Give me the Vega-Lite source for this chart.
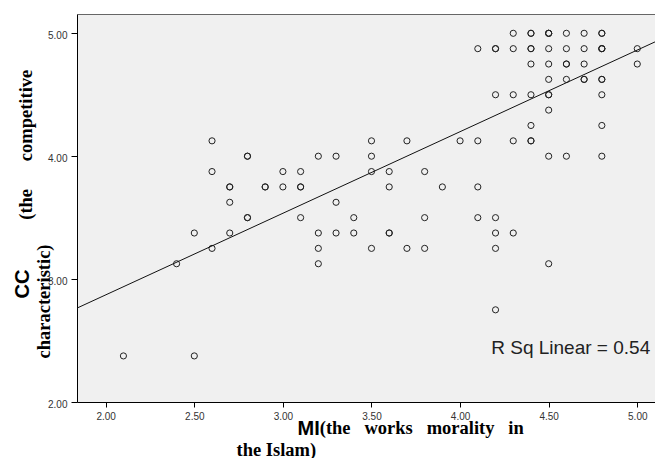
{
  "$schema": "https://vega.github.io/schema/vega-lite/v6.json",
  "width": 578,
  "height": 388,
  "autosize": {"type": "none"},
  "padding": {"left": 77, "top": 14, "right": 0, "bottom": 56},
  "background": "white",
  "view": {"fill": "#f0f0f0", "stroke": null},
  "datasets": {
    "fit": [{"MI": 1.838, "CC": 2.764}, {"MI": 5.1, "CC": 4.93}],
    "note": [{"label": "R Sq Linear = 0.54"}]
  },
  "data": {"values": [
    {"MI": 4.3, "CC": 5.0}, {"MI": 4.4, "CC": 5.0}, {"MI": 4.4, "CC": 5.0}, {"MI": 4.5, "CC": 5.0}, {"MI": 4.5, "CC": 5.0}, {"MI": 4.5, "CC": 5.0}, {"MI": 4.6, "CC": 5.0}, {"MI": 4.7, "CC": 5.0}, {"MI": 4.8, "CC": 5.0}, {"MI": 4.8, "CC": 5.0},
    {"MI": 4.1, "CC": 4.875}, {"MI": 4.2, "CC": 4.875}, {"MI": 4.2, "CC": 4.875}, {"MI": 4.3, "CC": 4.875}, {"MI": 4.4, "CC": 4.875}, {"MI": 4.4, "CC": 4.875}, {"MI": 4.5, "CC": 4.875}, {"MI": 4.6, "CC": 4.875}, {"MI": 4.7, "CC": 4.875}, {"MI": 4.8, "CC": 4.875}, {"MI": 4.8, "CC": 4.875}, {"MI": 4.8, "CC": 4.875}, {"MI": 5.0, "CC": 4.875},
    {"MI": 4.4, "CC": 4.75}, {"MI": 4.5, "CC": 4.75}, {"MI": 4.6, "CC": 4.75}, {"MI": 4.6, "CC": 4.75}, {"MI": 4.7, "CC": 4.75}, {"MI": 5.0, "CC": 4.75},
    {"MI": 4.5, "CC": 4.625}, {"MI": 4.6, "CC": 4.625}, {"MI": 4.7, "CC": 4.625}, {"MI": 4.7, "CC": 4.625}, {"MI": 4.8, "CC": 4.625}, {"MI": 4.8, "CC": 4.625},
    {"MI": 4.2, "CC": 4.5}, {"MI": 4.3, "CC": 4.5}, {"MI": 4.4, "CC": 4.5}, {"MI": 4.5, "CC": 4.5}, {"MI": 4.5, "CC": 4.5}, {"MI": 4.8, "CC": 4.5},
    {"MI": 4.5, "CC": 4.375},
    {"MI": 4.4, "CC": 4.25}, {"MI": 4.8, "CC": 4.25},
    {"MI": 2.6, "CC": 4.125}, {"MI": 3.5, "CC": 4.125}, {"MI": 3.7, "CC": 4.125}, {"MI": 4.0, "CC": 4.125}, {"MI": 4.1, "CC": 4.125}, {"MI": 4.3, "CC": 4.125}, {"MI": 4.4, "CC": 4.125}, {"MI": 4.4, "CC": 4.125},
    {"MI": 2.8, "CC": 4.0}, {"MI": 2.8, "CC": 4.0}, {"MI": 3.2, "CC": 4.0}, {"MI": 3.3, "CC": 4.0}, {"MI": 3.5, "CC": 4.0}, {"MI": 4.5, "CC": 4.0}, {"MI": 4.6, "CC": 4.0}, {"MI": 4.8, "CC": 4.0},
    {"MI": 2.6, "CC": 3.875}, {"MI": 3.0, "CC": 3.875}, {"MI": 3.1, "CC": 3.875}, {"MI": 3.5, "CC": 3.875}, {"MI": 3.6, "CC": 3.875}, {"MI": 3.8, "CC": 3.875},
    {"MI": 2.7, "CC": 3.75}, {"MI": 2.7, "CC": 3.75}, {"MI": 2.9, "CC": 3.75}, {"MI": 2.9, "CC": 3.75}, {"MI": 3.0, "CC": 3.75}, {"MI": 3.1, "CC": 3.75}, {"MI": 3.1, "CC": 3.75}, {"MI": 3.6, "CC": 3.75}, {"MI": 3.9, "CC": 3.75}, {"MI": 4.1, "CC": 3.75},
    {"MI": 2.7, "CC": 3.625}, {"MI": 3.3, "CC": 3.625},
    {"MI": 2.8, "CC": 3.5}, {"MI": 2.8, "CC": 3.5}, {"MI": 3.1, "CC": 3.5}, {"MI": 3.4, "CC": 3.5}, {"MI": 3.8, "CC": 3.5}, {"MI": 4.1, "CC": 3.5}, {"MI": 4.2, "CC": 3.5},
    {"MI": 2.5, "CC": 3.375}, {"MI": 2.7, "CC": 3.375}, {"MI": 3.2, "CC": 3.375}, {"MI": 3.3, "CC": 3.375}, {"MI": 3.4, "CC": 3.375}, {"MI": 3.6, "CC": 3.375}, {"MI": 3.6, "CC": 3.375}, {"MI": 4.2, "CC": 3.375}, {"MI": 4.3, "CC": 3.375},
    {"MI": 2.6, "CC": 3.25}, {"MI": 3.2, "CC": 3.25}, {"MI": 3.5, "CC": 3.25}, {"MI": 3.7, "CC": 3.25}, {"MI": 3.8, "CC": 3.25}, {"MI": 4.2, "CC": 3.25},
    {"MI": 2.4, "CC": 3.125}, {"MI": 3.2, "CC": 3.125}, {"MI": 4.5, "CC": 3.125},
    {"MI": 4.2, "CC": 2.75},
    {"MI": 2.1, "CC": 2.375}, {"MI": 2.5, "CC": 2.375}
  ]},
  "layer": [
    {
      "mark": {"type": "point", "shape": "circle", "filled": false, "size": 38, "stroke": "#222", "strokeWidth": 1, "opacity": 1},
      "encoding": {
        "x": {
          "field": "MI", "type": "quantitative",
          "scale": {"domain": [1.838, 5.1], "nice": false, "zero": false},
          "axis": {
            "orient": "bottom", "values": [2, 2.5, 3, 3.5, 4, 4.5, 5], "format": ".2f", "grid": false,
            "domainColor": "#000", "tickColor": "#000", "tickSize": 5,
            "labelFont": "Liberation Sans", "labelFontSize": 10, "labelColor": "#333", "labelPadding": 4, "labelFlush": false, "labelOverlap": false,
            "title": ["\u200b\u00a0\u00a0\u00a0\u00a0\u00a0\u00a0\u00a0\u00a0\u00a0\u00a0\u00a0\u00a0\u00a0\u00a0\u00a0\u00a0\u00a0\u00a0(the\u00a0\u00a0\u00a0works\u00a0\u00a0\u00a0morality\u00a0\u00a0\u00a0in", "the Islam)"],
            "titleFont": "Liberation Serif", "titleFontSize": 18.5, "titleFontWeight": "bold", "titleColor": "#000",
            "titleX": 159, "titleY": 31, "titleAlign": "left", "titleBaseline": "alphabetic", "titleLineHeight": 22, "titleAngle": 0
          }
        },
        "y": {
          "field": "CC", "type": "quantitative",
          "scale": {"domain": [2, 5.157], "nice": false, "zero": false},
          "axis": {
            "orient": "left", "values": [2, 3, 4, 5], "format": ".2f", "grid": false,
            "domainColor": "#000", "tickColor": "#000", "tickSize": 6,
            "labelFont": "Liberation Sans", "labelFontSize": 10, "labelColor": "#333", "labelPadding": 4, "labelBaseline": "middle", "labelOffset": 2, "labelFlush": false, "labelOverlap": false,
            "title": ["\u200b\u00a0\u00a0\u00a0\u00a0\u00a0\u00a0\u00a0\u00a0\u00a0\u00a0\u00a0\u00a0\u00a0\u00a0\u00a0\u00a0\u00a0\u00a0\u00a0\u00a0\u00a0\u00a0\u00a0\u00a0\u00a0\u00a0\u00a0\u00a0\u00a0\u00a0(the\u00a0\u00a0\u00a0\u00a0\u00a0\u00a0competitive", "characteristic)"],
            "titleFont": "Liberation Serif", "titleFontSize": 18.5, "titleFontWeight": "bold", "titleColor": "#000",
            "titleX": -46, "titleY": 344, "titleAlign": "left", "titleBaseline": "alphabetic", "titleLineHeight": 18, "titleAngle": 270
          }
        }
      }
    },
    {
      "data": {"name": "fit"},
      "mark": {"type": "line", "color": "#111", "strokeWidth": 1, "clip": true},
      "encoding": {
        "x": {
          "field": "MI", "type": "quantitative",
          "axis": {
            "orient": "top", "domainColor": "#666", "ticks": false, "labels": false, "grid": false,
            "title": "MI", "titleFont": "Liberation Sans", "titleFontSize": 20, "titleFontWeight": "bold", "titleColor": "#000",
            "titleX": 220, "titleY": 420, "titleAlign": "left", "titleBaseline": "alphabetic", "titleAngle": 0
          }
        },
        "y": {
          "field": "CC", "type": "quantitative",
          "axis": {
            "orient": "left", "domain": false, "ticks": false, "labels": false, "grid": false,
            "title": "CC", "titleFont": "Liberation Sans", "titleFontSize": 20, "titleFontWeight": "bold", "titleColor": "#000",
            "titleX": -49, "titleY": 284, "titleAlign": "left", "titleBaseline": "alphabetic", "titleAngle": 270
          }
        }
      }
    },
    {
      "data": {"name": "note"},
      "mark": {"type": "text", "align": "right", "baseline": "alphabetic", "font": "Liberation Sans", "fontSize": 19, "color": "#222"},
      "encoding": {
        "text": {"field": "label"},
        "x": {"datum": 5.073, "type": "quantitative", "axis": null},
        "y": {"datum": 2.39, "type": "quantitative", "axis": null}
      }
    }
  ],
  "resolve": {"axis": {"x": "independent", "y": "independent"}}
}
